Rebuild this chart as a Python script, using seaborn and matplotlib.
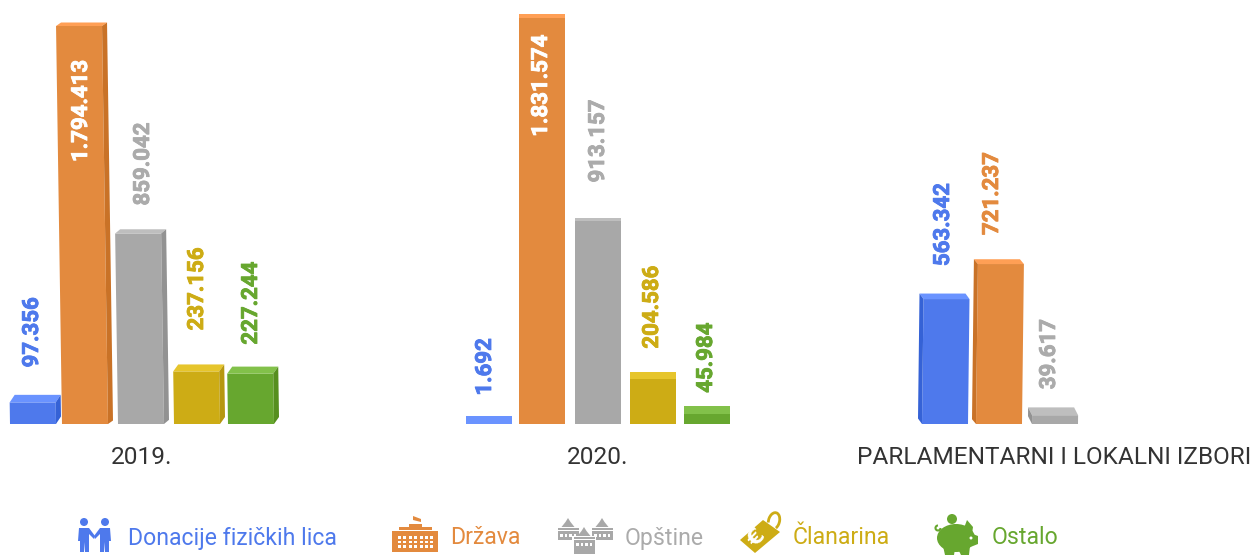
import matplotlib
matplotlib.use('Agg')
import matplotlib.pyplot as plt
import matplotlib.patches as mp
import matplotlib.patheffects as pe
from matplotlib.transforms import Affine2D, IdentityTransform
import pandas as pd
import seaborn as sns

# Chart data
sources = ['Donacije fizičkih lica', 'Država', 'Opštine', 'Članarina', 'Ostalo']
values_2019 = [97356, 1794413, 859042, 237156, 227244]
values_2020 = [1692, 1831574, 913157, 204586, 45984]
values_izbori = [563342, 721237, 39617]
group_names = ['2019.', '2020.', 'PARLAMENTARNI I LOKALNI IZBORI']

# Colours: front, top, side
front_colors = ['#4E79EC', '#E38A3E', '#A8A8A8', '#CDAC15', '#67A72F']
top_colors = ['#6A93FF', '#FF9F55', '#BEBEBE', '#E6C52C', '#82C14A']
side_colors = ['#3562D6', '#C97227', '#929292', '#B69710', '#568F1F']
label_colors = ['#4E79EC', '#E38A3E', '#ABABAB', '#CDAC15', '#67A72F']

# Layout, all in pixels
W, H = 1253, 555
BASE_Y = 424
PX_PER_UNIT = 398 / 1794413

groups = [
    dict(values=values_2019, left=5.75, step=54.5, shear=-0.015, depth=5, center=142,
         nudges=[0, -2.5, -1, 0.5, 0], gaps=[35, -136, 28, 41, 29], shifts=[-1, -6.5, 1, 0.5, 0]),
    dict(values=values_2020, left=461.75, step=54.5, shear=0.0, depth=0, center=598,
         nudges=[0, -1.5, 0, 0.5, 0], gaps=[28, -119, 39, 30, 21], shifts=[-4, -2.5, 0, -0.5, -1]),
    dict(values=values_izbori, left=917.5, step=55, shear=0.012, depth=-4, center=1054,
         nudges=[0, -1, 0], gaps=[33, 29, 26], shifts=[-2, -8, -6]),
]

sns.set_theme(style='white')
plt.rcParams['font.family'] = ['Roboto', 'DejaVu Sans']

fig = plt.figure(figsize=(W / 100, H / 100), dpi=100, facecolor='white')

for group in groups:
    n = len(group['values'])
    ax = fig.add_axes([group['left'] / W, (H - BASE_Y) / H, n * group['step'] / W, BASE_Y / H])
    df = pd.DataFrame({'source': sources[:n], 'value': group['values']})
    sns.barplot(data=df, x='source', y='value', hue='source', palette=front_colors[:n],
                width=46 / group['step'], saturation=1, linewidth=0, legend=False, ax=ax)
    ax.set_xlim(-0.5, n - 0.5)
    ax.set_ylim(0, BASE_Y / PX_PER_UNIT)
    ax.axis('off')

    # skew around the baseline, so tall bars lean like in a perspective view
    k = group['shear']
    y0 = H - BASE_Y
    skew = Affine2D.from_values(1, 0, k, 1, -k * y0, 0)
    to_px = ax.transData + skew
    for i, bar in enumerate(ax.patches):
        bar.set_x(bar.get_x() + group['nudges'][i] / group['step'])
        bar.set_transform(to_px)
        x0 = bar.get_x()
        x1 = x0 + bar.get_width()
        val = bar.get_height()
        bl = to_px.transform((x0, 0))
        br = to_px.transform((x1, 0))
        tl = to_px.transform((x0, val))
        tr = to_px.transform((x1, val))
        h_px = tl[1] - bl[1]
        dy = max(3.5, 8 - 0.02 * h_px)
        d = group['depth']
        top = [tl, tr, (tr[0] + d, tr[1] + dy), (tl[0] + d, tl[1] + dy)]
        ax.add_patch(mp.Polygon(top, closed=True, facecolor=top_colors[i], edgecolor='none',
                                linewidth=0, transform=IdentityTransform(), clip_on=False, zorder=3))
        if d != 0:
            a, b = (br, tr) if d > 0 else (bl, tl)
            side = [a, b, (b[0] + d, b[1] + dy), (a[0] + d, a[1] + dy)]
            ax.add_patch(mp.Polygon(side, closed=True, facecolor=side_colors[i], edgecolor='none',
                                    linewidth=0, transform=IdentityTransform(), clip_on=False, zorder=3))
        # thousands separated with dots
        text = f'{group["values"][i]:,}'.replace(',', '.')
        gap = group['gaps'][i]
        color = 'white' if gap < 0 else label_colors[i]
        ax.annotate(text, xy=(i, group['values'][i]), xytext=(group['shifts'][i], gap),
                    textcoords='offset pixels', rotation=90, ha='center', va='bottom',
                    fontsize=16, fontweight='bold', color=color, zorder=5, annotation_clip=False,
                    path_effects=[pe.withStroke(linewidth=0.6, foreground=color)])

# Overlay in pixel coordinates for group names and the legend row
ov = fig.add_axes([0, 0, 1, 1], zorder=10)
ov.set_xlim(0, W)
ov.set_ylim(H, 0)
ov.axis('off')
ov.patch.set_alpha(0)

for name, group in zip(group_names, groups):
    ov.text(group['center'], 457, name, ha='center', va='center', fontsize=17.6, color='#333333')

legend_x = [128, 450, 625, 793, 992]
for name, x, color in zip(sources, legend_x, label_colors):
    ov.text(x, 538, name, ha='left', va='center', fontsize=16.6, color=color)


def poly(pts, color):
    ov.add_patch(mp.Polygon(pts, closed=True, facecolor=color, edgecolor='none', linewidth=0))


def rect(x, y, w, h, color):
    ov.add_patch(mp.Rectangle((x, y), w, h, facecolor=color, edgecolor='none', linewidth=0))


def circle(x, y, r, color):
    ov.add_patch(mp.Circle((x, y), r, facecolor=color, edgecolor='none', linewidth=0))


# two people shaking hands
c = front_colors[0]
circle(84, 522, 4, c)
circle(105, 522, 4, c)
poly([(79, 528), (89, 528), (95, 536), (94, 539), (89, 534), (89, 552), (85, 552), (84.5, 542),
      (84, 552), (80, 552), (80, 541), (78, 541)], c)
poly([(110, 528), (100, 528), (94, 536), (95, 539), (100, 534), (100, 552), (104, 552), (104.5, 542),
      (105, 552), (109, 552), (109, 541), (111, 541)], c)

# parliament building
c = front_colors[1]
poly([(413, 516), (421, 519), (421, 522), (413, 520)], c)
rect(409, 524, 13, 3, c)
rect(399, 527, 33, 3, c)
rect(392, 531, 46, 21, c)
for row in range(3):
    for col in range(7):
        rect(398 + col * 5.4, 536 + row * 4.5, 3, 2.6, 'white')

# three town halls, the middle one in front of the others
c = front_colors[2]
for cx, top, body in [(568, 519, 9), (602, 519, 9), (584, 528, 14)]:
    rect(cx - 12, top + 8, 24, body + 5, 'white')
    poly([(cx - 6.5, top + 8), (cx - 2.5, top + 3), (cx, top - 1), (cx + 2.5, top + 3), (cx + 6.5, top + 8)], c)
    rect(cx - 10.5, top + 9, 21, 2, c)
    rect(cx - 10.5, top + 12, 21, body, c)
    for col in range(4):
        rect(cx - 8 + col * 4.5, top + 15, 2.5, 3, 'white')

# price tag with euro
c = front_colors[3]
poly([(740, 540), (763, 520), (780, 532), (755, 553)], c)
ov.add_patch(mp.Arc((774, 521), 11, 17, angle=15, theta1=150, theta2=60, edgecolor=c, linewidth=2))
ov.text(757, 538, '€', fontsize=16, fontweight='bold', color='white', rotation=45,
        ha='center', va='center', family='DejaVu Sans')

# piggy bank
c = front_colors[4]
ov.add_patch(mp.Ellipse((956, 538), 38, 28, facecolor=c, edgecolor='none', linewidth=0))
circle(952, 519, 5, c)
poly([(964, 528), (967, 520), (973, 527), (972, 534)], c)
poly([(970, 533), (978, 536), (978, 544), (968, 548)], c)
poly([(943, 546), (955, 549), (954, 555), (945, 555)], c)
poly([(958, 549), (970, 546), (969, 555), (961, 555)], c)
circle(971, 538, 1.5, 'white')
ov.add_patch(mp.Arc((938, 528), 5, 5, theta1=0, theta2=270, edgecolor=c, linewidth=1.5))

plt.savefig('out.png', dpi=100, facecolor='white')
plt.close()
